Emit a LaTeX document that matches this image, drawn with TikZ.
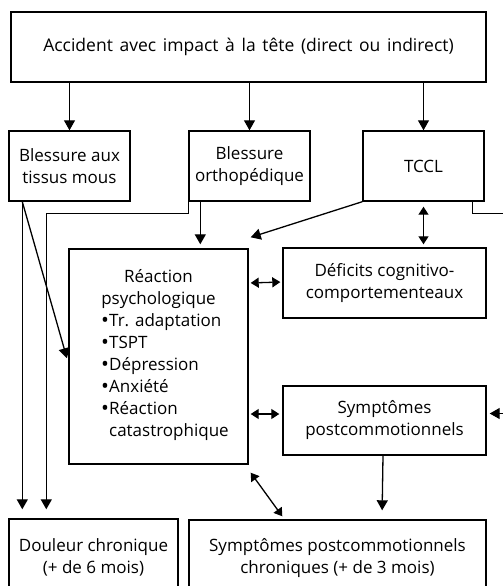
\documentclass[tikz,border=0pt]{standalone}
\usepackage{fontspec}
\setmainfont{Open Sans}
\usetikzlibrary{arrows.meta,calc}
\newcommand{\itembullet}{\makebox[8pt][l]{\fontsize{21}{22}\selectfont\raisebox{-0.8pt}{•}}}
\begin{document}
\begin{tikzpicture}[x=1pt,y=-1pt,
  every node/.style={font=\fontsize{17}{22}\selectfont, align=center, inner sep=0pt},
  box/.style={draw, line width=1.4pt},
  conn/.style={line width=1.3pt},
  arr/.style={conn, -{Triangle[length=10pt,width=11pt]}},
  dbl/.style={conn, {Triangle[length=8pt,width=10pt]}-{Triangle[length=8pt,width=10pt]}},
]
\useasboundingbox (0,0) rectangle (503,586);
\clip (0,0) rectangle (503,586);

% boxes
\node[box, minimum width=475pt, minimum height=70pt,
      font=\fontsize{17.5}{22}\selectfont] (top) at (248.5,47)
  {\spaceskip=0.38em\relax Accident avec impact à la tête (direct ou indirect)};
\node[box, minimum width=121pt, minimum height=70pt] (tissus) at (69.5,166)
  {Blessure aux\\tissus mous};
\node[box, minimum width=121pt, minimum height=70pt] (ortho) at (249.5,166)
  {Blessure\\orthopédique};
\node[box, minimum width=121pt, minimum height=70pt] (tccl) at (423.5,166)
  {TCCL};
\node[box, minimum width=179pt, minimum height=215pt] (react) at (158.5,356.5) {};
\node (reacttitle) at (158.5,289) {Réaction\\psychologique};
\node[align=left, anchor=west] (reactlist) at (101,377.5)
  {\itembullet Tr. adaptation\\\itembullet TSPT\\\itembullet Dépression\\\itembullet Anxiété\\\itembullet Réaction\\\hspace*{8pt}catastrophique};
\node[box, minimum width=203pt, minimum height=70pt] (deficits) at (384.5,283)
  {Déficits cognitivo-\\comportementeaux};
\node[box, minimum width=203pt, minimum height=69pt] (symp) at (384.5,420.5)
  {Symptômes\\postcommotionnels};
\node[box, minimum width=169pt, minimum height=76pt] (douleur) at (93.5,557)
  {Douleur chronique\\(+ de 6 mois)};
\node[box, minimum width=297pt, minimum height=76pt] (chron) at (337.5,558)
  {Symptômes postcommotionnels\\chroniques (+ de 3 mois)};

% from the accident
\draw[arr] (tissus.north |- top.south) -- (tissus.north);
\draw[arr] (ortho.north |- top.south) -- (ortho.north);
\draw[arr] (tccl.north |- top.south) -- (tccl.north);

% soft tissue injury
\coordinate (tsrc) at ($(tissus.south west)+(14,0)$);
\draw[arr, shorten >=9pt] (tsrc) -- (tsrc |- douleur.north);
\draw[arr, shorten >=5pt] (tsrc) -- (react.west |- 0,363);

% orthopaedic injury
\coordinate (obend) at ($(ortho.south west)+(0,12)$);
\draw[arr, shorten >=9pt] (ortho.south west) -- (obend) -| ($(douleur.north west)+(38,0)$);
\draw[arr, shorten >=4pt] ($(ortho.south west)+(12,0)$) -- ($(react.north west)+(132,0)$);

% mild traumatic brain injury
\draw[arr] (tccl.south west) -- ($(react.north east)+(2,-11)$);
\draw[dbl, shorten <=5pt, shorten >=3pt] (tccl.south |- tccl.south) -- (tccl.south |- deficits.north);
\draw[conn] ($(tccl.south east)+(-12,0)$) |- ($(tccl.south east)+(40,12)$);
\coordinate (rin) at ($(symp.east)+(30,-7)$);
\draw[arr, shorten >=3pt] (rin) -- ($(symp.east)+(0,-7)$);

% psychological reaction
\draw[dbl, shorten <=2pt, shorten >=2pt] (react.east |- deficits.west) -- ($(deficits.west)+(0,-1)$);
\draw[dbl, shorten <=2pt, shorten >=3pt] ($(react.east |- symp.west)+(0,-6.5)$) -- ($(symp.west)+(0,-6.5)$);
\draw[dbl] ($(react.south east)+(2,8)$) -- ($(chron.north west)+(94,-3)$);

% postconcussive symptoms
\draw[arr, shorten >=9pt] ($(symp.south)+(-1.5,0)$) -- ($(chron.north)+(44.5,0)$);
\end{tikzpicture}
\end{document}
